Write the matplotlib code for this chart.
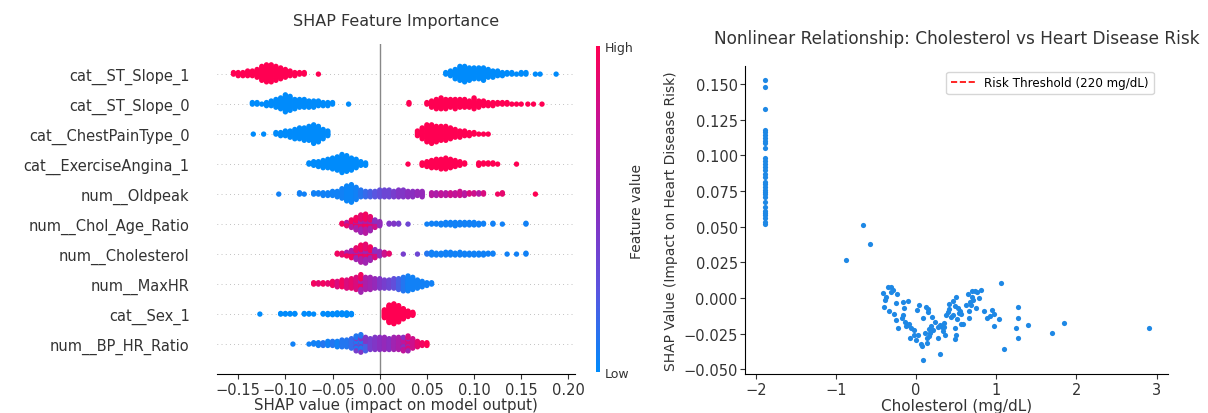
import numpy as np
import matplotlib
matplotlib.use('Agg')
import matplotlib.pyplot as plt
from matplotlib.colors import LinearSegmentedColormap
from matplotlib.lines import Line2D
from matplotlib.cm import ScalarMappable

# ---- left panel: SHAP summary, rows from top to bottom ----
features = ['cat__ST_Slope_1', 'cat__ST_Slope_0', 'cat__ChestPainType_0',
            'cat__ExerciseAngina_1', 'num__Oldpeak', 'num__Chol_Age_Ratio',
            'num__Cholesterol', 'num__MaxHR', 'cat__Sex_1', 'num__BP_HR_Ratio']

# each entry: (shap value, number of samples, feature value 0=low .. 1=high)
st_slope_1 = [(-0.155, 2, 1), (-0.150, 3, 1), (-0.145, 3, 1), (-0.140, 4, 1), (-0.135, 4, 1),
              (-0.130, 6, 1), (-0.125, 10, 1), (-0.120, 12, 1), (-0.115, 12, 1), (-0.110, 10, 1),
              (-0.105, 8, 1), (-0.100, 6, 1), (-0.095, 4, 1), (-0.090, 3, 1), (-0.085, 2, 1),
              (-0.080, 2, 1), (-0.065, 1, 1),
              (0.070, 2, 0), (0.075, 4, 0), (0.080, 7, 0), (0.085, 10, 0), (0.090, 11, 0),
              (0.095, 9, 0), (0.100, 8, 0), (0.105, 8, 0), (0.110, 9, 0), (0.115, 6, 0),
              (0.120, 5, 0), (0.125, 4, 0), (0.130, 3, 0), (0.135, 2, 0), (0.140, 2, 0),
              (0.145, 1, 0), (0.150, 2, 0), (0.155, 2, 0), (0.165, 1, 0), (0.170, 1, 0),
              (0.187, 1, 0)]

st_slope_0 = [(-0.135, 2, 0), (-0.130, 2, 0), (-0.125, 1, 0), (-0.120, 3, 0), (-0.115, 4, 0),
              (-0.110, 6, 0), (-0.105, 8, 0), (-0.100, 12, 0), (-0.095, 10, 0), (-0.090, 7, 0),
              (-0.085, 6, 0), (-0.080, 6, 0), (-0.075, 5, 0), (-0.070, 5, 0), (-0.065, 4, 0),
              (-0.060, 3, 0), (-0.055, 3, 0), (-0.050, 2, 0), (-0.033, 1, 0),
              (0.031, 2, 1), (0.050, 2, 1), (0.055, 5, 1), (0.060, 7, 1), (0.065, 8, 1),
              (0.070, 7, 1), (0.075, 6, 1), (0.080, 7, 1), (0.085, 6, 1), (0.090, 6, 1),
              (0.095, 5, 1), (0.100, 8, 1), (0.105, 5, 1), (0.110, 4, 1), (0.115, 3, 1),
              (0.120, 3, 1), (0.125, 2, 1), (0.130, 2, 1), (0.135, 2, 1), (0.140, 1, 1),
              (0.145, 1, 1), (0.150, 1, 1), (0.157, 1, 1), (0.163, 1, 1), (0.172, 1, 1)]

chest_pain_0 = [(-0.134, 1, 0), (-0.123, 1, 0), (-0.110, 2, 0), (-0.105, 3, 0), (-0.100, 4, 0),
                (-0.095, 5, 0), (-0.090, 7, 0), (-0.085, 8, 0), (-0.080, 9, 0), (-0.075, 10, 0),
                (-0.070, 13, 0), (-0.065, 11, 0), (-0.060, 7, 0), (-0.055, 4, 0),
                (0.040, 4, 1), (0.045, 8, 1), (0.050, 12, 1), (0.055, 13, 1), (0.060, 11, 1),
                (0.065, 10, 1), (0.070, 10, 1), (0.075, 8, 1), (0.080, 6, 1), (0.085, 5, 1),
                (0.090, 4, 1), (0.095, 3, 1), (0.100, 2, 1), (0.105, 1, 1), (0.110, 1, 1),
                (0.115, 1, 1)]

exercise_angina_1 = [(-0.075, 2, 0), (-0.070, 4, 0), (-0.065, 5, 0), (-0.060, 7, 0), (-0.055, 8, 0),
                     (-0.050, 10, 0), (-0.045, 12, 0), (-0.040, 16, 0), (-0.035, 14, 0),
                     (-0.030, 11, 0), (-0.025, 8, 0), (-0.020, 4, 0), (-0.015, 3, 0),
                     (0.030, 1, 1), (0.045, 3, 1), (0.050, 5, 1), (0.055, 7, 1), (0.060, 8, 1),
                     (0.065, 9, 1), (0.070, 10, 1), (0.075, 8, 1), (0.080, 6, 1), (0.085, 4, 1),
                     (0.090, 2, 1), (0.105, 3, 1), (0.110, 2, 1), (0.115, 2, 1), (0.120, 2, 1),
                     (0.125, 1, 1), (0.145, 1, 1)]

oldpeak = [(-0.107, 1, 0.05), (-0.085, 2, 0.05), (-0.080, 1, 0.05), (-0.070, 2, 0.05),
           (-0.065, 2, 0.05), (-0.060, 3, 0.05), (-0.055, 3, 0.05), (-0.050, 4, 0.05),
           (-0.045, 5, 0.05), (-0.040, 8, 0.05), (-0.035, 12, 0.03), (-0.030, 14, 0.03),
           (-0.025, 10, 0.05), (-0.020, 6, 0.1), (-0.015, 5, 0.15), (-0.010, 5, 0.2),
           (-0.005, 5, 0.25), (0.000, 6, 0.3), (0.005, 6, 0.35), (0.010, 6, 0.35),
           (0.015, 5, 0.4), (0.020, 6, 0.45), (0.025, 6, 0.45), (0.030, 5, 0.5),
           (0.035, 5, 0.5), (0.040, 4, 0.55), (0.045, 5, 0.55), (0.055, 3, 0.7),
           (0.060, 3, 0.65), (0.065, 3, 0.75), (0.070, 3, 0.7), (0.075, 3, 0.8),
           (0.080, 3, 0.75), (0.085, 4, 0.8), (0.090, 3, 0.7), (0.095, 2, 0.85),
           (0.100, 2, 0.8), (0.105, 2, 0.7), (0.110, 2, 0.85), (0.125, 1, 0.95),
           (0.130, 2, 0.9), (0.165, 1, 1.0)]

chol_age_ratio = [(-0.040, 2, 0.95), (-0.035, 3, 0.9), (-0.035, 2, 0.7), (-0.030, 6, 0.95),
                  (-0.030, 4, 0.7), (-0.025, 9, 0.95), (-0.025, 7, 0.65), (-0.020, 12, 0.9),
                  (-0.020, 10, 0.6), (-0.015, 13, 0.95), (-0.015, 11, 0.7), (-0.010, 10, 0.9),
                  (-0.010, 8, 0.6), (-0.005, 5, 0.8), (-0.005, 5, 0.5), (0.000, 6, 0.55),
                  (0.010, 2, 0.45), (0.015, 2, 0.45), (0.020, 2, 0.4), (0.030, 1, 0.35),
                  (0.050, 1, 0.05), (0.055, 2, 0.05), (0.060, 2, 0.05), (0.065, 3, 0.05),
                  (0.070, 4, 0.05), (0.075, 4, 0.05), (0.080, 5, 0.05), (0.085, 4, 0.05),
                  (0.090, 4, 0.05), (0.095, 4, 0.05), (0.100, 4, 0.05), (0.105, 3, 0.05),
                  (0.110, 2, 0.05), (0.120, 2, 0.05), (0.130, 1, 0.05), (0.155, 2, 0.05)]

cholesterol = [(-0.045, 2, 0.95), (-0.040, 3, 0.9), (-0.035, 3, 0.95), (-0.035, 2, 0.65),
               (-0.030, 5, 0.95), (-0.030, 4, 0.65), (-0.025, 8, 0.9), (-0.025, 6, 0.6),
               (-0.020, 11, 0.95), (-0.020, 9, 0.65), (-0.015, 12, 0.9), (-0.015, 10, 0.6),
               (-0.010, 9, 0.95), (-0.010, 7, 0.6), (-0.005, 5, 0.85), (-0.005, 5, 0.5),
               (0.000, 6, 0.55), (0.005, 4, 0.8), (0.010, 2, 0.9), (0.025, 1, 0.4),
               (0.040, 1, 0.35), (0.050, 2, 0.1), (0.055, 4, 0.05), (0.060, 3, 0.05),
               (0.065, 3, 0.05), (0.070, 4, 0.05), (0.075, 4, 0.05), (0.080, 3, 0.05),
               (0.085, 4, 0.05), (0.090, 3, 0.05), (0.095, 3, 0.05), (0.100, 3, 0.05),
               (0.105, 3, 0.05), (0.110, 3, 0.05), (0.115, 2, 0.05), (0.120, 2, 0.05),
               (0.135, 1, 0.05), (0.145, 1, 0.05), (0.155, 2, 0.05)]

max_hr = [(-0.070, 2, 0.95), (-0.065, 2, 0.9), (-0.060, 2, 0.95), (-0.055, 2, 0.9),
          (-0.050, 4, 0.95), (-0.045, 5, 0.85), (-0.040, 6, 0.95), (-0.035, 7, 0.85),
          (-0.030, 8, 0.9), (-0.025, 10, 0.85), (-0.020, 8, 0.95), (-0.020, 6, 0.6),
          (-0.015, 10, 0.65), (-0.010, 10, 0.6), (-0.005, 8, 0.55), (0.000, 8, 0.45),
          (0.005, 7, 0.4), (0.010, 7, 0.35), (0.015, 8, 0.3), (0.020, 9, 0.2),
          (0.025, 11, 0.1), (0.030, 12, 0.05), (0.035, 10, 0.05), (0.040, 7, 0.05),
          (0.045, 5, 0.05), (0.050, 3, 0.05), (0.055, 2, 0.05)]

sex_1 = [(-0.127, 1, 0), (-0.105, 2, 0), (-0.100, 2, 0), (-0.095, 2, 0), (-0.090, 2, 0),
         (-0.080, 2, 0), (-0.075, 2, 0), (-0.070, 1, 0), (-0.060, 2, 0), (-0.055, 3, 0),
         (-0.050, 3, 0), (-0.045, 4, 0), (-0.040, 4, 0), (-0.035, 5, 0), (-0.030, 3, 0),
         (0.005, 14, 1), (0.010, 30, 1), (0.015, 34, 1), (0.020, 28, 1), (0.025, 18, 1),
         (0.030, 10, 1), (0.035, 6, 1)]

bp_hr_ratio = [(-0.092, 1, 0.05), (-0.075, 1, 0.05), (-0.070, 2, 0.05), (-0.065, 3, 0.05),
               (-0.060, 3, 0.1), (-0.055, 4, 0.05), (-0.050, 4, 0.1), (-0.045, 5, 0.05),
               (-0.040, 6, 0.1), (-0.035, 6, 0.1), (-0.030, 8, 0.15), (-0.025, 8, 0.1),
               (-0.025, 4, 0.4), (-0.020, 9, 0.1), (-0.020, 5, 0.45), (-0.015, 6, 0.2),
               (-0.015, 5, 0.45), (-0.010, 9, 0.4), (-0.005, 10, 0.45), (0.000, 10, 0.5),
               (0.005, 10, 0.55), (0.010, 9, 0.5), (0.015, 10, 0.6), (0.020, 10, 0.65),
               (0.025, 7, 0.75), (0.025, 4, 0.5), (0.030, 8, 0.85), (0.030, 4, 0.6),
               (0.035, 8, 0.8), (0.040, 5, 0.9), (0.045, 3, 0.95), (0.050, 3, 1.0)]

rows = [st_slope_1, st_slope_0, chest_pain_0, exercise_angina_1, oldpeak,
        chol_age_ratio, cholesterol, max_hr, sex_1, bp_hr_ratio]

# ---- right panel: dependence of cholesterol ----
chol_zero_shap = [0.153, 0.148, 0.1325, 0.118, 0.116, 0.114, 0.112, 0.110, 0.1085, 0.105,
                  0.098, 0.096, 0.094, 0.092, 0.090, 0.087, 0.085, 0.0815, 0.080, 0.078,
                  0.076, 0.0745, 0.073, 0.0705, 0.067, 0.0635, 0.061, 0.0595, 0.058, 0.056,
                  0.0535, 0.052]
chol_x = [-0.664, -0.579, -0.874,
          -0.413, -0.393, -0.401, -0.351, -0.310, -0.289, -0.318, -0.372, -0.339, -0.269,
          -0.256, -0.240, -0.227, -0.248, -0.165, -0.153, -0.157, -0.174, -0.103, -0.136,
          -0.124, -0.083, -0.062, -0.103, -0.070, -0.021, -0.029, 0.000, 0.012, 0.041,
          0.029, 0.062, 0.074, 0.087, 0.083, 0.112, 0.124, 0.132, 0.145, 0.157, 0.165,
          0.178, 0.186, 0.194, 0.153, 0.136, 0.207, 0.240, 0.277, 0.269, 0.298, 0.302,
          0.318, 0.331, 0.343, 0.351, 0.360, 0.372, 0.393, 0.405, 0.413, 0.434, 0.455,
          0.467, 0.483, 0.496, 0.488, 0.483, 0.496, 0.517, 0.525, 0.537, 0.545, 0.558,
          0.566, 0.583, 0.620, 0.649, 0.661, 0.665, 0.682, 0.674, 0.694, 0.702, 0.715,
          0.736, 0.744, 0.756, 0.785, 0.814, 0.847, 0.880, 0.917, 0.950, 0.971, 0.975,
          1.029, 1.058, 1.091, 1.248, 1.273, 1.273, 1.273, 1.397, 1.698, 1.851, 2.905]
chol_y = [0.0512, 0.0376, 0.0264,
          0.0033, -0.0014, -0.0061, 0.0079, 0.0079, 0.0056, 0.0044, 0.0009, -0.0091, -0.0114,
          -0.0154, 0.0026, -0.0208, -0.0037, -0.0026, -0.0072, -0.0119, -0.0142, -0.0021, -0.0166,
          -0.0196, -0.0178, -0.0208, -0.0189, -0.0278, -0.0224, -0.0259, -0.0294, -0.0084, -0.0049,
          -0.0259, -0.0318, -0.0336, -0.0434, -0.0142, -0.0243, -0.0061, -0.0311, -0.0096, -0.0264, -0.0213,
          -0.0241, -0.0194, -0.0133, -0.0077, -0.0278, -0.0224, -0.0166, -0.0276, -0.0201, -0.0395, -0.0185,
          -0.0201, -0.0231, -0.0201, -0.0171, -0.0259, -0.0119, -0.0100, -0.0077, -0.0044, -0.0133, -0.0119,
          -0.0023, -0.0054, 0.0009, -0.0208, -0.0283, -0.0259, -0.0147, -0.0068, -0.0107, -0.0091, -0.0114,
          -0.0178, -0.0178, -0.0049, 0.0026, -0.0138, -0.0091, -0.0049, -0.0030, 0.0009, 0.0049, -0.0014,
          0.0049, -0.0068, 0.0044, -0.0002, 0.0056, -0.0091, -0.0142, -0.0124, -0.0086, -0.0114, -0.0194,
          -0.0147, 0.0107, -0.0360, -0.0208, -0.0138, -0.0061, -0.0278, -0.0185, -0.0243, -0.0173, -0.0210]
chol_zero_x = -1.89

shap_cmap = LinearSegmentedColormap.from_list(
    'shap_rb', ['#008bfb', '#5a55e0', '#8a2ec0', '#c0149a', '#ff0052'])
text_col = '#333333'


def swarm(row, y0, row_height=0.4):
    # group samples by value, stack them alternately above/below the row line
    groups = {}
    for v, n, f in row:
        groups.setdefault(v, []).append((n, f))
    xs, ys, cs = [], [], []
    max_layer = 0
    for v, parts in groups.items():
        keys, feats = [], []
        for n, f in parts:
            keys += [(j + 0.5) / n for j in range(n)]
            feats += [f] * n
        order = np.argsort(keys, kind='stable')
        for layer, k in enumerate(order):
            off = np.ceil(layer / 2) * ((layer % 2) * 2 - 1)
            xs.append(v)
            ys.append(off)
            cs.append(feats[k])
            max_layer = max(max_layer, abs(off))
    ys = np.array(ys) * 0.9 * (row_height / (max_layer + 1))
    return np.array(xs), y0 + ys, np.array(cs)


fig = plt.figure(figsize=(12.08, 4.14), dpi=100)

ax1 = fig.add_axes([0.180, 0.094, 0.296, 0.797])
n = len(features)
for i, row in enumerate(rows):
    y0 = n - 1 - i
    ax1.axhline(y0, color='#888888', lw=0.5, dashes=(1, 5), zorder=-1)
    xs, ys, cs = swarm(row, y0)
    ax1.scatter(xs, ys, c=cs, cmap=shap_cmap, vmin=0, vmax=1, s=15, linewidths=0,
                zorder=3)
ax1.axvline(0, color='#888888', lw=1, zorder=-1)
ax1.set_yticks(range(n))
ax1.set_yticklabels(features[::-1], fontsize=10.5, color=text_col)
ax1.set_ylim(-1, n)
ax1.set_xlim(-0.172, 0.207)
ax1.set_xticks(np.arange(-0.15, 0.21, 0.05))
ax1.tick_params(axis='y', length=0, pad=20)
ax1.tick_params(axis='x', labelsize=10.5, colors=text_col, pad=2)
for s in ['top', 'right', 'left']:
    ax1.spines[s].set_visible(False)
ax1.set_xlabel('SHAP value (impact on model output)', fontsize=10.8, color=text_col, labelpad=0)
ax1.set_title('SHAP Feature Importance', fontsize=11.5, color=text_col, pad=14)

cax = fig.add_axes([0.4934, 0.099, 0.0035, 0.787])
cb = fig.colorbar(ScalarMappable(cmap=shap_cmap), cax=cax, ticks=[0, 1])
cb.set_ticklabels(['Low', 'High'])
cb.ax.tick_params(length=0, labelsize=9, colors=text_col, pad=3)
cb.outline.set_visible(False)
fig.text(0.527, 0.49, 'Feature value', rotation=90, va='center', ha='center',
         fontsize=10, color=text_col)

ax2 = fig.add_axes([0.617, 0.094, 0.350, 0.745])
ax2.scatter([chol_zero_x] * len(chol_zero_shap) + chol_x, chol_zero_shap + chol_y,
            color='#1e88e5', s=14, linewidths=0)
ax2.set_title('Nonlinear Relationship: Cholesterol vs Heart Disease Risk', fontsize=12.2,
              color=text_col, pad=16)
ax2.set_xlabel('Cholesterol (mg/dL)', fontsize=11, color=text_col, labelpad=1)
ax2.set_ylabel('SHAP Value (Impact on Heart Disease Risk)', fontsize=10, color=text_col)
ax2.tick_params(labelsize=10.5, colors=text_col, pad=2)
for s in ['top', 'right']:
    ax2.spines[s].set_visible(False)
ax2.legend(handles=[Line2D([], [], color='red', ls='--', lw=1.2,
                           label='Risk Threshold (220 mg/dL)')],
           loc='upper right', fontsize=8.6, bbox_to_anchor=(0.98, 1.0))

fig.savefig('out.png', dpi=100)
